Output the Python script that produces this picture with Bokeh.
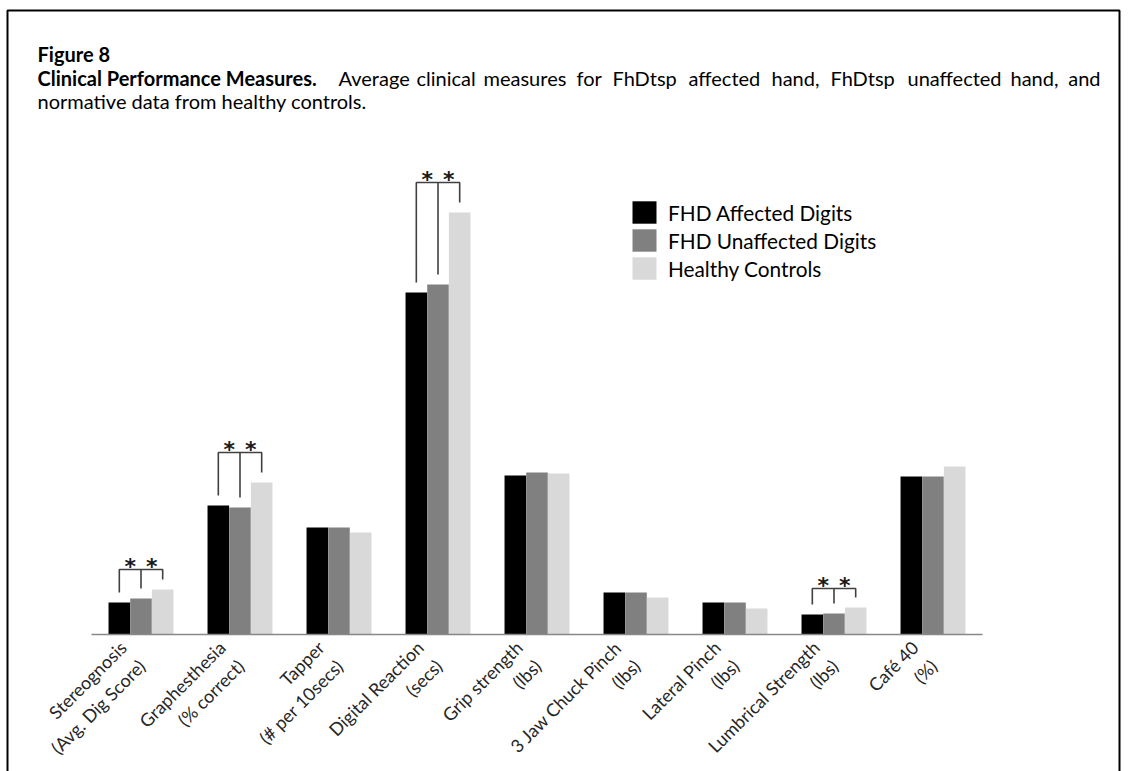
from bokeh.plotting import figure
from bokeh.models import Range1d, Label, Legend, LegendItem, ColumnDataSource
from bokeh.embed import file_html
from bokeh.resources import INLINE
from bokeh.core.properties import value
import math

# ---- data ---------------------------------------------------------------
categories = [
    "Stereognosis\n(Avg. Dig Score)",
    "Graphesthesia\n(% correct)",
    "Tapper\n(# per 10secs)",
    "Digital Reaction\n(secs)",
    "Grip strength\n(lbs)",
    "3 Jaw Chuck Pinch\n(lbs)",
    "Lateral Pinch\n(lbs)",
    "Lumbrical Strength\n(lbs)",
    "Café 40\n(%)",
]
series_names = ["FHD Affected Digits", "FHD Unaffected Digits", "Healthy Controls"]
fhd_affected = [16, 64.5, 53.5, 171, 79.5, 21, 16, 10, 79]
fhd_unaffected = [18, 63.5, 53.5, 175, 81, 21, 16, 10.5, 79]
healthy_controls = [22.5, 76, 51, 211, 80.5, 18.5, 13, 13.5, 84]

# groups with significant differences and the height of their brackets
sig_groups = [0, 1, 3, 7]
sig_bracket_top = [32.5, 91, 226, 23]

# ---- canvas geometry ------------------------------------------------------
W, H = 1134, 771
CAT_PX = 99.0        # pixels between category centres
FIRST_PX = 140.5     # pixel x of first category centre
BASE_PX = 634.0      # pixel y of the zero line
UNIT_PX = 2.0        # pixels per value unit


def sx(px):
    return (px - FIRST_PX) / CAT_PX


def sy(py):
    return (BASE_PX - py) / UNIT_PX


p = figure(
    width=W, height=H,
    x_range=Range1d(sx(0), sx(W)),
    y_range=Range1d(sy(H), sy(0)),
    x_axis_type=None, y_axis_type=None,
    min_border=0, toolbar_location=None,
    output_backend="svg",
)
p.grid.visible = False
p.outline_line_color = None
p.background_fill_color = "white"
p.border_fill_color = "white"

FONT = "Lato"
colors = ["#000000", "#808080", "#d9d9d9"]
bar_w = 0.218
offsets = [-0.219, 0.0, 0.219]
series = [fhd_affected, fhd_unaffected, healthy_controls]
idx = list(range(len(categories)))

# ---- bars -----------------------------------------------------------------
renderers = []
for vals, off, col in zip(series, offsets, colors):
    src = ColumnDataSource(dict(x=[i + off for i in idx], top=vals))
    r = p.vbar(x="x", top="top", width=bar_w, bottom=0, source=src,
               fill_color=col, line_color=None)
    renderers.append(r)

# zero line
p.line(x=[-0.5, len(categories) - 0.5], y=[0, 0], line_color="#888888", line_width=1.6)

# ---- category labels (rotated, two lines) --------------------------------
p.text(x=[i - 0.26 for i in idx], y=[-1] * len(idx), text=categories,
       angle=math.pi / 4, text_align="right", text_baseline="top",
       text_font=value(FONT), text_font_size="18px", text_color="#262626",
       text_line_height=1.2)

# ---- significance brackets ------------------------------------------------
gap = 5
xs, ys, star_x, star_y = [], [], [], []
for g, top in zip(sig_groups, sig_bracket_top):
    xl, xm, xr = g + offsets[0], g + offsets[1], g + offsets[2]
    bl, bm, br = fhd_affected[g] + gap, fhd_unaffected[g] + gap, healthy_controls[g] + gap
    xs.append([xl, xl, xr, xr]); ys.append([bl, top, top, br])
    xs.append([xm, xm]); ys.append([bm, top])
    star_x += [(xl + xm) / 2, (xm + xr) / 2]
    star_y += [top + 1.5, top + 1.5]
p.multi_line(xs=xs, ys=ys, line_color="#404040", line_width=1.6)
p.text(x=star_x, y=star_y, text=["*"] * len(star_x), text_align="center",
       text_baseline="alphabetic", text_font=value("DejaVu Sans"),
       text_font_style="bold", text_font_size="22px", text_color="#1a1a1a")

# ---- legend ---------------------------------------------------------------
legend = Legend(
    items=[LegendItem(label=n, renderers=[r]) for n, r in zip(series_names, renderers)],
    location=(629, H - 198 - 84),
    orientation="vertical",
    background_fill_alpha=0, border_line_color=None,
    padding=0, margin=0, spacing=0,
    glyph_width=30, glyph_height=28, label_height=28, label_width=10,
    label_standoff=9,
    label_text_font=FONT, label_text_font_size="20.8px", label_text_color="#000000",
)
p.add_layout(legend)

# ---- caption ----------------------------------------------------------------
def caption(text, x_px, y_px, bold=False, align="left"):
    p.add_layout(Label(x=sx(x_px), y=sy(y_px), text=text, text_font=FONT,
                       text_font_style="bold" if bold else "normal",
                       text_font_size="20px", text_align=align,
                       text_baseline="alphabetic", text_color="#000000"))


caption("Figure 8", 37, 53, bold=True)
caption("Clinical Performance Measures.", 37, 77, bold=True)
# first caption line is justified across the full text width
words = ["Average", "clinical", "measures", "for", "FhDtsp", "affected",
         "hand,", "FhDtsp", "unaffected", "hand,"]
word_x = [338, 416, 483, 576, 612, 688, 771, 830, 907, 1010]
for w, x in zip(words, word_x):
    caption(w, x, 77)
caption("and", 1100, 77, align="right")
caption("normative data from healthy controls.", 37, 100)

# ---- frame around the figure ------------------------------------------------
p.line(x=[sx(7), sx(7), sx(1119), sx(1119)], y=[sy(780), sy(10), sy(10), sy(780)],
       line_color="#000000", line_width=2)

with open("out.html", "w", encoding="utf-8") as f:
    f.write(file_html(p, INLINE))
